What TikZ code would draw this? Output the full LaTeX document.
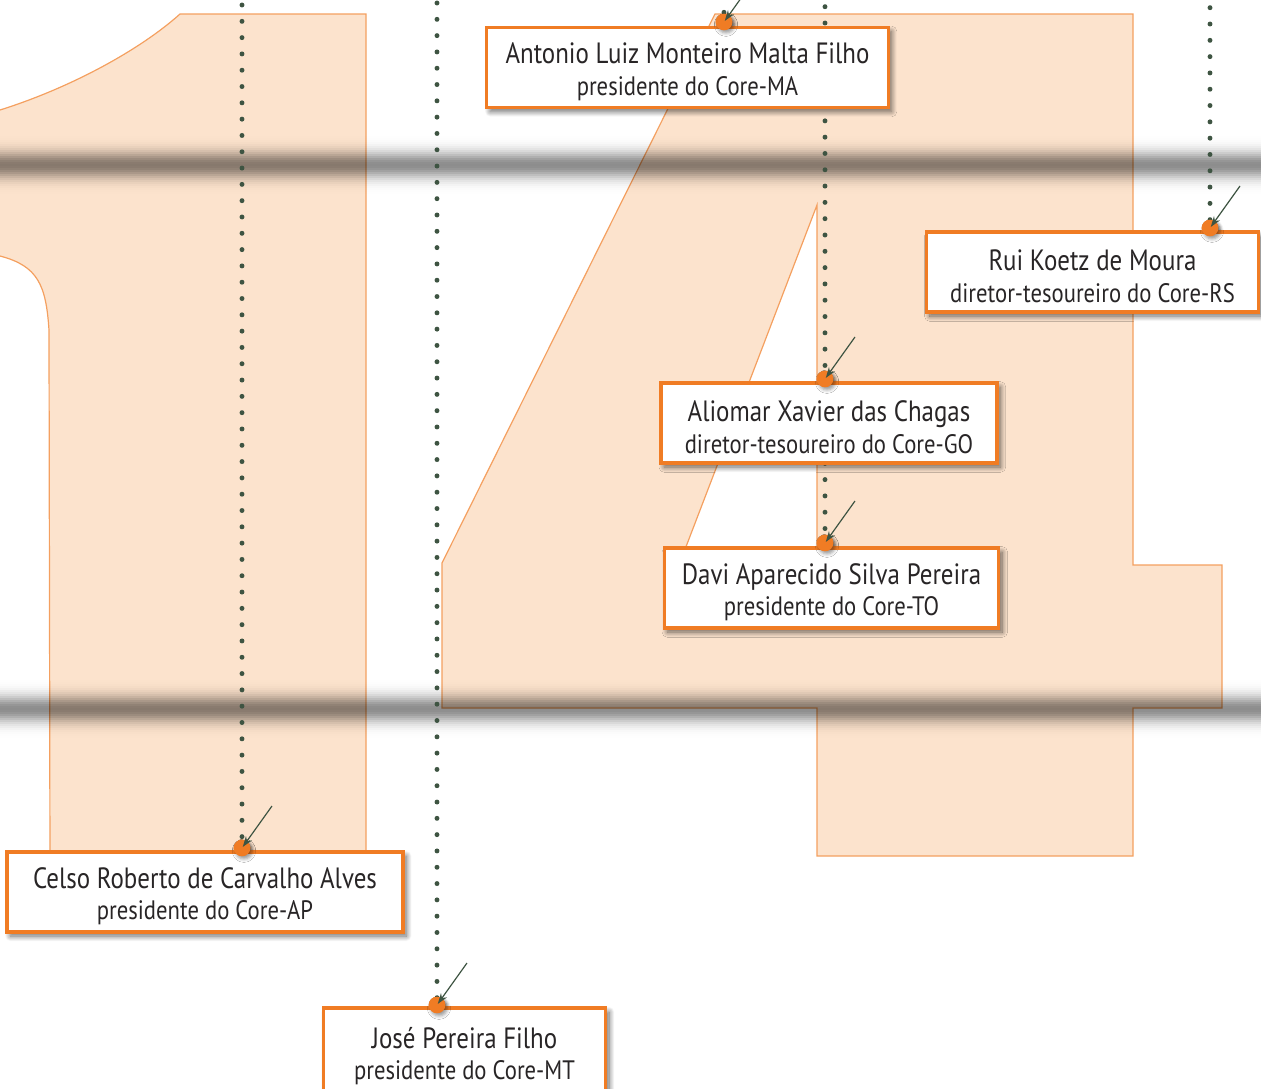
\documentclass[tikz,border=0pt]{standalone}
\usepackage{fontspec}
\setmainfont{PT Sans}[FakeStretch=0.85]
\usetikzlibrary{
  arrows.meta,
  positioning,
  calc,
  shadows.blur
}
\usepackage{xcolor}
\definecolor{peach}{RGB}{252,227,205}
\definecolor{peachline}{RGB}{244,160,96}
\definecolor{coreorange}{RGB}{240,124,36}
\definecolor{dotgreen}{RGB}{62,84,66}
\definecolor{inktext}{RGB}{40,37,38}
\newcommand{\pname}{\fontsize{22}{23.3}\selectfont}
\newcommand{\prole}{\fontsize{20}{23.3}\selectfont}
\newcommand{\tagstrut}{\rule{0pt}{22pt}}

\begin{document}
\begin{tikzpicture}[x=0.75pt, y=-0.75pt,
    numeral/.style={fill=peach, draw=peachline, line width=0.9pt},
    tag/.style={draw=coreorange, line width=2.3pt, fill=white, text=inktext,
      font=\pname, align=center, inner sep=0pt,
      blur shadow={shadow xshift=2.5pt, shadow yshift=-3pt,
        shadow blur radius=4pt, shadow blur steps=20, shadow opacity=60}},
    pin/.style={circle, fill=coreorange, inner sep=0pt, minimum size=12.5pt,
      blur shadow={shadow xshift=1.5pt, shadow yshift=-2pt,
        shadow blur radius=2.5pt, shadow opacity=40}},
    dots/.style={draw=dotgreen, line width=3.7pt, line cap=round,
      dash pattern=on 0pt off 12.23pt},
    ptr/.style={draw=dotgreen, line width=0.9pt, shorten >=1pt,
      -{Stealth[length=8pt, width=5.5pt]}}
  ]
    \useasboundingbox (0,0) rectangle (1261,1089);

    % the big numerals
    \draw[numeral] (180,14) -- (366,14) -- (366,870) -- (50,870) -- (49,330)
      .. controls (46,285) and (38,266) .. (0,256) -- (-10,254) -- (-10,113)
      -- (0,110) .. controls (70,88) and (140,50) .. (180,14) -- cycle;
    \draw[numeral, even odd rule] (715,14) -- (1133,14) -- (1133,565)
      -- (1222,565) -- (1222,708) -- (1133,708) -- (1133,856) -- (817,856)
      -- (817,708) -- (442,708) -- (442,563) -- cycle
      (817,205) -- (817,565) -- (679,565) -- cycle;

    % shadow bars
    \foreach \c in {165,709}{
      \foreach \r in {40,38,...,0}{
        \pgfmathsetmacro{\op}{1-(1-0.45*exp(-(\r*\r)/180))/(1-0.45*exp(-((\r+2)*(\r+2))/180))}
        \fill[black, opacity=\op] (-5,\c-\r-1) rectangle (1270,\c+\r+1);
      }
    }

    % pins
    \coordinate (tap) at (242,5);
    \coordinate (tmt) at (437,3);
    \coordinate (tma) at (724,-4);
    \coordinate (tgo) at (825,6.7);
    \coordinate (trs) at (1210,7.7);
    \node[pin] (pap) at (242,848) {};
    \node[pin] (pmt) at (437,1005) {};
    \node[pin] (pma) at (724,22) {};
    \node[pin] (pgo) at (825,379) {};
    \node[pin] (pto) at (825,543) {};
    \node[pin] (prs) at (1210,228) {};

    \draw[dots] (tap) -- (pap.center);
    \draw[dots] (tmt) -- (pmt.center);
    \draw[dots] (tma) -- (pma.center);
    \draw[dots] (tgo) -- (pto.center);
    \draw[dots] (trs) -- (prs.center);

    % name tags
    \node[tag, minimum width=301pt, minimum height=60pt] (ma) at (687.5,67.5)
      {\tagstrut Antonio Luiz Monteiro Malta Filho\\{\prole presidente do Core-MA}};
    \node[tag, minimum width=249pt, minimum height=60pt] (rs) at (1092.5,272)
      {\tagstrut Rui Koetz de Moura\\{\prole diretor-tesoureiro do Core-RS}};
    \node[tag, minimum width=252pt, minimum height=60pt] (go) at (829,423)
      {\tagstrut Aliomar Xavier das Chagas\\{\prole diretor-tesoureiro do Core-GO}};
    \node[tag, minimum width=251pt, minimum height=60pt] (to) at (831.5,588)
      {\tagstrut Davi Aparecido Silva Pereira\\{\prole presidente do Core-TO}};
    \node[tag, minimum width=297pt, minimum height=60pt] (ap) at (205,892)
      {\tagstrut Celso Roberto de Carvalho Alves\\{\prole presidente do Core-AP}};
    \node[tag, minimum width=212pt, minimum height=66pt] (mt) at (464.5,1052)
      {\tagstrut José Pereira Filho\\{\prole presidente do Core-MT}};

    % pins again on top of the tags
    \foreach \p in {pap,pmt,pma,pgo,pto,prs}{
      \node[pin] at (\p) {};
      \coordinate (a\p) at ($(\p)+(30,-42)$);
      \draw[ptr] (a\p) -- (\p.center);
    }
\end{tikzpicture}
\end{document}
